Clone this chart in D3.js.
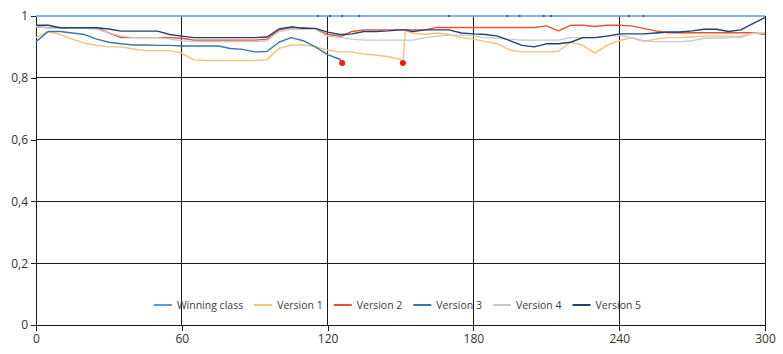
<!DOCTYPE html>
<html>
<head>
<meta charset="utf-8">
<script src="https://cdn.jsdelivr.net/npm/d3@7"></script>
<style>
  body { margin: 0; background: #fff; }
  svg text { font-family: "Open Sans", "Noto Sans", sans-serif; }
</style>
</head>
<body>
<svg id="chart" width="783" height="354"></svg>
<script>
// sample times (x values)
const times = [0,5,10,15,20,25,30,35,40,45,50,55,60,65,70,75,80,85,90,95,100,105,110,115,120,125,126,
  130,135,140,145,150,151,152,155,160,165,170,175,180,185,190,195,200,205,210,215,220,225,230,235,240,
  245,250,255,260,265,270,275,280,285,290,295,300];

const winning = times.map(() => 1);

const version1 = [.93,.95,.94,.925,.912,.905,.90,.90,.893,.888,.888,.888,.88,.858,.856,.856,.856,.856,.856,.858,
  .895,.906,.906,.90,.89,.884,.884,.884,.876,.874,.868,.86,.848,.952,.945,.94,.945,.94,.93,.925,.917,.91,.89,
  .884,.884,.884,.886,.915,.905,.88,.905,.92,.93,.918,.925,.93,.93,.932,.935,.935,.935,.93,.945,.945];

const version2 = [.965,.962,.962,.962,.962,.962,.945,.93,.93,.93,.93,.93,.928,.922,.922,.922,.922,.922,.922,.925,
  .955,.962,.962,.958,.94,.935,.935,.95,.955,.955,.955,.955,.955,.955,.955,.955,.963,.963,.963,.963,.963,.963,.963,
  .963,.963,.968,.952,.97,.97,.966,.97,.97,.968,.96,.952,.946,.946,.946,.946,.946,.946,.946,.946,.94];

const version3 = [.917,.95,.95,.945,.94,.925,.915,.91,.906,.906,.905,.905,.903,.903,.903,.903,.895,.892,.884,.885,
  .915,.93,.92,.90,.875,.86,.848];

const version4 = [.965,.962,.96,.96,.96,.958,.945,.935,.93,.93,.93,.925,.92,.917,.917,.917,.917,.917,.917,.92,
  .95,.957,.957,.957,.935,.93,.93,.925,.922,.922,.922,.922,.922,.922,.922,.93,.935,.938,.938,.935,.93,.928,.925,
  .922,.922,.922,.922,.93,.93,.93,.935,.938,.93,.92,.917,.917,.917,.92,.928,.928,.93,.935,.944,.944];

const version5 = [.97,.97,.962,.962,.962,.962,.958,.951,.951,.951,.951,.94,.935,.93,.93,.93,.93,.93,.93,.932,
  .958,.965,.96,.96,.948,.94,.94,.942,.95,.95,.952,.955,.955,.955,.95,.955,.955,.955,.945,.942,.94,.935,.92,
  .905,.90,.91,.91,.915,.93,.93,.935,.942,.942,.942,.945,.948,.948,.952,.957,.957,.95,.955,.975,.995];

// red reset markers
const resetT = [126, 151];
const resetV = [0.848, 0.848];

// small dark specks on the top line
const speckT = [116, 121, 126, 133, 170, 194, 199, 209, 212, 244, 250];

const seriesNames = ["Winning class", "Version 1", "Version 2", "Version 3", "Version 4", "Version 5"];
const seriesValues = [winning, version1, version2, version3, version4, version5];
const seriesColors = ["#5b9bd5", "#f6c177", "#e5532f", "#3279b0", "#c9c9c9", "#24406e"];

const xTicks = [0, 60, 120, 180, 240, 300];
const yTicks = [0, 0.2, 0.4, 0.6, 0.8, 1];

const svg = d3.select('#chart');
const margin = { left: 36, right: 18, top: 16, bottom: 29 };
const W = 783, H = 354;

const x = d3.scaleLinear().domain([0, 300]).range([margin.left, W - margin.right]);
const y = d3.scaleLinear().domain([0, 1]).range([H - margin.bottom, margin.top]);

// grid
const grid = svg.append('g');
grid.selectAll('line.h').data(yTicks.filter(d => d > 0 && d < 1)).join('line')
  .attr('class', 'h')
  .attr('x1', x(0)).attr('x2', x(300))
  .attr('y1', d => y(d)).attr('y2', d => y(d))
  .attr('stroke', '#1a1a1a').attr('stroke-width', 1).attr('shape-rendering', 'crispEdges');
grid.selectAll('line.v').data(xTicks.filter(d => d > 0)).join('line')
  .attr('class', 'v')
  .attr('x1', d => x(d)).attr('x2', d => x(d))
  .attr('y1', y(0)).attr('y2', y(1))
  .attr('stroke', '#1a1a1a').attr('stroke-width', 1).attr('shape-rendering', 'crispEdges');

// axes
const fmt = d => (d === 0 || d === 1) ? String(d) : d.toFixed(1).replace('.', ',');
const yAxis = svg.append('g').attr('transform', `translate(${x(0)},0)`)
  .call(d3.axisLeft(y).tickValues(yTicks).tickFormat(fmt).tickSize(5).tickSizeOuter(0).tickPadding(3));
const xAxis = svg.append('g').attr('transform', `translate(0,${y(0)})`)
  .call(d3.axisBottom(x).tickValues(xTicks).tickSize(6).tickSizeOuter(0).tickPadding(3));
[yAxis, xAxis].forEach(a => {
  a.selectAll('path,line').attr('stroke', '#1a1a1a').attr('shape-rendering', 'crispEdges');
  a.selectAll('text').attr('fill', '#333').style('font-size', '12px');
});

// series lines
const lines = svg.append('g');
seriesValues.forEach((vals, i) => {
  const pts = vals.map((v, j) => [times[j], v]);
  const line = d3.line().x(d => x(d[0])).y(d => y(d[1]));
  lines.append('path')
    .attr('d', line(pts))
    .attr('fill', 'none')
    .attr('stroke', seriesColors[i])
    .attr('stroke-width', 1.4)
    .attr('stroke-linejoin', 'round');
});

// specks on top line
lines.selectAll('circle.speck').data(speckT).join('circle')
  .attr('class', 'speck')
  .attr('cx', d => x(d)).attr('cy', y(1)).attr('r', 1.1)
  .attr('fill', '#2f4f7f');

// reset markers
lines.selectAll('circle.reset').data(resetT).join('circle')
  .attr('class', 'reset')
  .attr('cx', d => x(d)).attr('cy', (d, i) => y(resetV[i])).attr('r', 3)
  .attr('fill', '#e3211c');

// legend
const legend = svg.append('g').attr('transform', 'translate(0,305)');
const items = legend.selectAll('g').data(seriesNames).join('g');
items.append('line').attr('x1', 0).attr('x2', 18).attr('y1', 0).attr('y2', 0)
  .attr('stroke', (d, i) => seriesColors[i]).attr('stroke-width', 2);
items.append('text').attr('x', 23).attr('y', 0).attr('dy', '0.35em')
  .attr('fill', '#404040').style('font-size', '10.5px').text(d => d);
let widths = [];
items.each(function() { widths.push(23 + d3.select(this).select('text').node().getComputedTextLength()); });
const gap = 11;
const total = d3.sum(widths) + gap * (widths.length - 1);
let cx = (155 + 640) / 2 - total / 2;
items.each(function(d, i) {
  d3.select(this).attr('transform', `translate(${cx},0)`);
  cx += widths[i] + gap;
});
</script>
</body>
</html>
